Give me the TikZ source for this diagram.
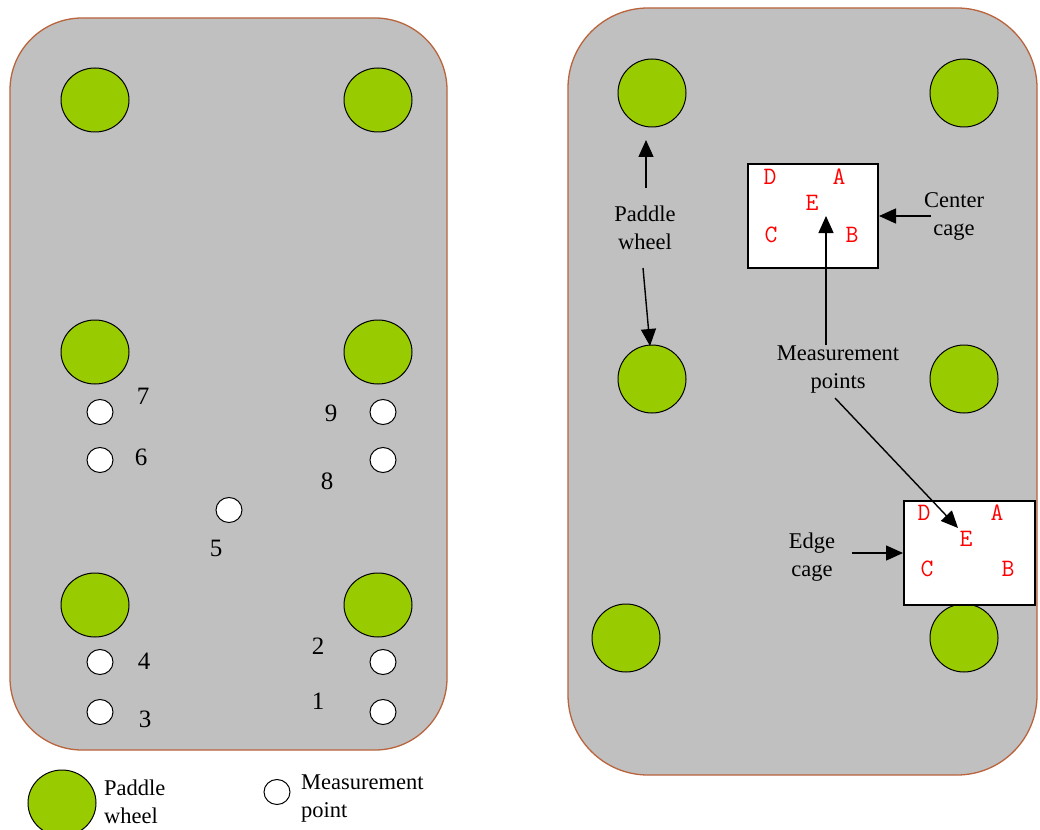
\documentclass[tikz,border=0pt]{standalone}
\usepackage{fontspec}
\setmainfont{Liberation Serif}
\usetikzlibrary{shapes.geometric,arrows.meta}
\definecolor{wheelgreen}{RGB}{153,204,0}
\definecolor{tankgray}{RGB}{192,192,192}
\definecolor{tankedge}{RGB}{185,100,60}
\definecolor{letterred}{RGB}{255,0,0}
\tikzset{
  tank/.style={fill=tankgray,draw=tankedge,line width=1.3pt},
  wheelL/.style={ellipse,draw=black,fill=wheelgreen,line width=1pt,minimum width=68pt,minimum height=64pt,inner sep=0pt},
  wheelR/.style={circle,draw=black,fill=wheelgreen,line width=1pt,minimum size=68pt,inner sep=0pt},
  mpoint/.style={ellipse,draw=black,fill=white,line width=1pt,minimum width=26pt,minimum height=25pt,inner sep=0pt},
  numlbl/.style={font=\fontsize{25}{26}\selectfont,inner sep=0pt},
  txt/.style={font=\fontsize{22.5}{28}\selectfont,align=center,inner sep=0pt},
  cage/.style={draw=black,fill=white,line width=1.2pt,minimum width=130pt,minimum height=104pt,inner sep=0pt},
  ltr/.style={text=letterred,font=\ttfamily\fontsize{25}{26}\selectfont,inner sep=0pt},
  arr/.style={-{Triangle[length=17pt,width=15pt]},line width=1.4pt}
}
\begin{document}
\begin{tikzpicture}[x=1pt,y=-1pt]
\useasboundingbox (0,0) rectangle (1040,829);
% ---------- left panel ----------
\draw[tank,rounded corners=72pt] (10,18) rectangle (447,750);
\node[wheelL] (lw1) at (95,100) {};
\node[wheelL] (lw2) at (378,100) {};
\node[wheelL] (lw3) at (95,352) {};
\node[wheelL] (lw4) at (378,352) {};
\node[wheelL] (lw5) at (95,605) {};
\node[wheelL] (lw6) at (378,605) {};
\node[mpoint] (p7) at (100,412) {};
\node[mpoint] (p6) at (100,460) {};
\node[mpoint] (p4) at (100,662) {};
\node[mpoint] (p3) at (100,712) {};
\node[mpoint] (p9) at (383,412) {};
\node[mpoint] (p8) at (383,460) {};
\node[mpoint] (p2) at (383,662) {};
\node[mpoint] (p1) at (383,712) {};
\node[mpoint] (p5) at (229,510) {};
\node[numlbl] (n7) at (143,396) {7};
\node[numlbl] (n6) at (141,457) {6};
\node[numlbl] (n9) at (331,413) {9};
\node[numlbl] (n8) at (327,481) {8};
\node[numlbl] (n5) at (216,548) {5};
\node[numlbl] (n4) at (144,661) {4};
\node[numlbl] (n3) at (145,719) {3};
\node[numlbl] (n2) at (318,646) {2};
\node[numlbl] (n1) at (318,701) {1};
% legend
\node[wheelL,minimum width=68pt,minimum height=66pt] (legw) at (62,803) {};
\node[txt,anchor=west,align=left] (legwt) at (104,802) {Paddle\\wheel};
\node[mpoint] (legp) at (277,792) {};
\node[txt,anchor=west,align=left] (legpt) at (301,799) {Measurement\\point};
% ---------- right panel ----------
\draw[tank,rounded corners=80pt] (568,8) rectangle (1037,775);
\node[wheelR] (rw1) at (652,93) {};
\node[wheelR] (rw2) at (964,93) {};
\node[wheelR] (rw3) at (652,379) {};
\node[wheelR] (rw4) at (964,379) {};
\node[wheelR] (rw5) at (626,638) {};
\node[wheelR] (rw6) at (964,638) {};
\node[cage] (cc) at (813,216) {};
\node[ltr] (cD) at (770,177) {D};
\node[ltr] (cA) at (839,177) {A};
\node[ltr] (cE) at (812,203) {E};
\node[ltr] (cC) at (771,235) {C};
\node[ltr] (cB) at (852,235) {B};
\node[cage,minimum width=131pt] (ec) at (969.5,553) {};
\node[ltr] (eD) at (924,513) {D};
\node[ltr] (eA) at (997,513) {A};
\node[ltr] (eE) at (966,539) {E};
\node[ltr] (eC) at (927,569) {C};
\node[ltr] (eB) at (1008,569) {B};
\node[txt] (pwt) at (645,228) {Paddle\\wheel};
\node[txt] (cct) at (954,216) {Center\\cage};
\node[txt] (mpt) at (838,370) {Measurement\\points};
\node[txt] (ect) at (812,557) {Edge\\cage};
\coordinate (pws1) at (646,188);
\coordinate (pwa1) at (646,140);
\coordinate (pws2) at (643,268);
\coordinate (pwa2) at (650,346);
\coordinate (ccs) at (931,216);
\coordinate (cca) at (879,216);
\coordinate (mps1) at (826,345);
\coordinate (mpa1) at (826,216);
\coordinate (mps2) at (835,398);
\coordinate (mpa2) at (958,528);
\coordinate (ecs) at (852,553);
\coordinate (eca) at (903,553);
\draw[arr] (pws1) -- (pwa1);
\draw[arr] (pws2) -- (pwa2);
\draw[arr] (ccs) -- (cca);
\draw[arr] (mps1) -- (mpa1);
\draw[arr] (mps2) -- (mpa2);
\draw[arr] (ecs) -- (eca);
\end{tikzpicture}
\end{document}
